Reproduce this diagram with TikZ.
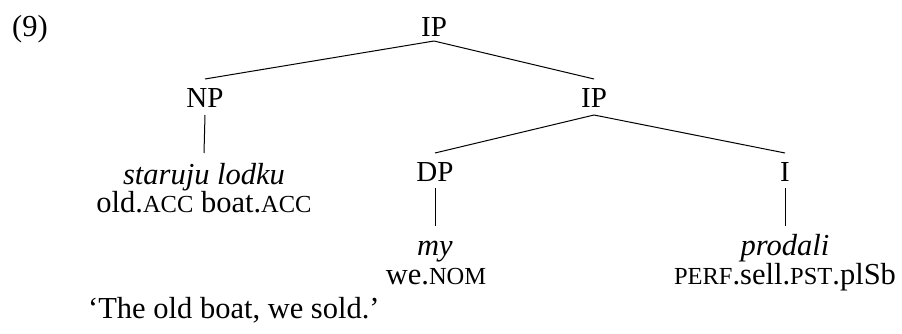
\documentclass[tikz,border=0pt]{standalone}
\usepackage{fontspec}
\setmainfont{Liberation Serif}
\newcommand\gsc[1]{{\fontsize{24.5}{29}\selectfont #1}}
\tikzset{
  cat/.style={anchor=base, inner sep=0pt, font=\fontsize{29}{34}\selectfont},
  lbl/.style={anchor=base, inner sep=0pt, font=\fontsize{30.5}{37}\selectfont},
  br/.style={line width=1pt}
}
\begin{document}
\begin{tikzpicture}[x=1pt,y=-1pt]
\useasboundingbox (0,0) rectangle (902,334);
\node[lbl, anchor=base west] (ex) at (12,37) {(9)};
\node[cat] (ip1) at (434,37) {IP};
\node[cat] (np) at (205,108) {NP};
\node[cat] (ip2) at (594,108) {IP};
\node[lbl] (w1) at (204,184) {\itshape staruju lodku};
\node[lbl] (g1) at (204,212) {old.\gsc{ACC} boat.\gsc{ACC}};
\node[cat] (dp) at (435,182) {DP};
\node[cat] (i) at (785,182) {I};
\node[lbl] (w2) at (435,255) {\itshape my};
\node[lbl] (g2) at (436,284) {we.\gsc{NOM}};
\node[lbl] (w3) at (785,255) {\itshape prodali};
\node[lbl] (g3) at (785,284) {\gsc{PERF}.sell.\gsc{PST}.plSb};
\node[lbl, anchor=base west] (tr) at (88,318) {‘The old boat, we sold.’};
\draw[br] ([yshift=-4pt]ip1.base) -- ([yshift=29pt]np.base);
\draw[br] ([yshift=-4pt]ip1.base) -- ([yshift=29pt]ip2.base);
\draw[br] ([yshift=-7pt]np.base) -- ([yshift=31pt]w1.base);
\draw[br] ([yshift=-7pt]ip2.base) -- ([yshift=29pt]dp.base);
\draw[br] ([yshift=-7pt]ip2.base) -- ([yshift=29pt]i.base);
\draw[br] ([yshift=-6pt]dp.base) -- ([yshift=29pt]w2.base);
\draw[br] ([yshift=-6pt]i.base) -- ([yshift=29pt]w3.base);
\end{tikzpicture}
\end{document}
